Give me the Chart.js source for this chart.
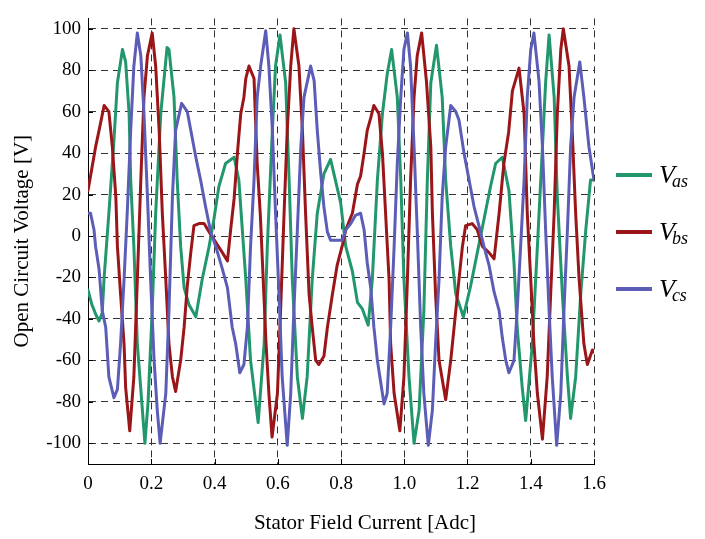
<!DOCTYPE html>
<html>
<head>
<meta charset="utf-8">
<script src="https://cdn.jsdelivr.net/npm/chart.js@4/dist/chart.umd.min.js"></script>
<style>
  html, body { margin: 0; padding: 0; background: #fff; }
</style>
</head>
<body>
<canvas id="chart" width="705" height="539"></canvas>
<script>
// axis ticks
const xTicks = [0, 0.2, 0.4, 0.6, 0.8, 1, 1.2, 1.4, 1.6];
const yTicks = [-100, -80, -60, -40, -20, 0, 20, 40, 60, 80, 100];

// legend subscripts (V_as, V_bs, V_cs)
const legendSubs = ['as', 'bs', 'cs'];
const xTitle = 'Stator Field Current [Adc]';

// [stator field current, open circuit voltage]
const vas = [[0,-26],[0.012,-33],[0.025,-38],[0.035,-41],[0.045,-37],[0.051,-20],[0.066,11],[0.082,46],[0.093,74],[0.109,90],[0.119,84],[0.13,59],[0.135,27],[0.145,-5],[0.156,-52],[0.172,-84],[0.18,-100],[0.19,-80],[0.203,-36],[0.214,11],[0.23,59],[0.25,91],[0.256,90],[0.272,67],[0.282,27],[0.293,-5],[0.304,-25],[0.319,-33],[0.341,-39],[0.361,-21],[0.383,-5],[0.398,8],[0.414,24],[0.435,35],[0.462,38],[0.477,27],[0.499,-21],[0.514,-60],[0.538,-90],[0.557,-52],[0.567,-5],[0.583,51],[0.593,82],[0.607,97],[0.625,74],[0.636,27],[0.646,-21],[0.662,-68],[0.678,-88],[0.693,-68],[0.709,-21],[0.725,11],[0.746,30],[0.767,37],[0.799,16],[0.815,-5],[0.836,-17],[0.852,-32],[0.867,-35],[0.886,-43],[0.899,-21],[0.915,27],[0.931,59],[0.946,78],[0.96,90],[0.978,67],[0.989,27],[0.999,-21],[1.015,-68],[1.031,-100],[1.047,-84],[1.062,-36],[1.073,27],[1.084,74],[1.102,92],[1.12,67],[1.131,27],[1.147,-5],[1.163,-28],[1.187,-39],[1.21,-24],[1.231,-8],[1.252,8],[1.273,24],[1.289,35],[1.31,38],[1.331,22],[1.347,-13],[1.357,-44],[1.373,-73],[1.384,-89],[1.405,-52],[1.421,-5],[1.437,43],[1.447,74],[1.458,97],[1.474,67],[1.484,19],[1.5,-28],[1.516,-68],[1.526,-88],[1.542,-68],[1.558,-28],[1.574,3],[1.589,27],[1.6,27]];

const vbs = [[0,22],[0.008,29],[0.024,43],[0.035,51],[0.051,63],[0.066,60],[0.077,43],[0.088,19],[0.093,-5],[0.103,-28],[0.114,-52],[0.119,-73],[0.132,-94],[0.145,-68],[0.156,-21],[0.167,27],[0.177,67],[0.188,87],[0.203,98],[0.214,82],[0.225,51],[0.235,11],[0.246,-21],[0.256,-52],[0.267,-68],[0.277,-75],[0.293,-60],[0.304,-44],[0.314,-24],[0.325,-8],[0.335,5],[0.351,6],[0.367,6],[0.383,2],[0.404,-3],[0.425,-8],[0.441,-12],[0.451,3],[0.462,18],[0.473,41],[0.483,59],[0.493,67],[0.499,76],[0.509,82],[0.525,76],[0.53,55],[0.535,35],[0.545,10],[0.554,-21],[0.563,-52],[0.572,-76],[0.582,-97],[0.599,-76],[0.609,-36],[0.62,11],[0.63,51],[0.641,82],[0.651,100],[0.667,82],[0.678,51],[0.688,11],[0.699,-28],[0.709,-44],[0.72,-60],[0.73,-62],[0.746,-58],[0.757,-44],[0.773,-28],[0.788,-14],[0.805,-4],[0.815,3],[0.836,11],[0.852,25],[0.862,29],[0.873,40],[0.883,51],[0.894,57],[0.904,63],[0.92,59],[0.931,40],[0.941,11],[0.952,-21],[0.957,-52],[0.968,-76],[0.986,-94],[0.999,-68],[1.01,-21],[1.02,27],[1.031,67],[1.041,87],[1.055,98],[1.07,75],[1.084,43],[1.089,11],[1.099,-28],[1.11,-60],[1.131,-79],[1.147,-60],[1.163,-36],[1.173,-21],[1.184,-5],[1.194,5],[1.215,6],[1.231,3],[1.247,-5],[1.268,-8],[1.284,-11],[1.3,11],[1.315,35],[1.33,50],[1.342,70],[1.363,81],[1.379,59],[1.389,11],[1.4,-21],[1.41,-52],[1.421,-76],[1.437,-98],[1.452,-68],[1.463,-28],[1.474,11],[1.484,59],[1.495,90],[1.503,100],[1.521,82],[1.531,51],[1.542,11],[1.553,-21],[1.568,-52],[1.579,-62],[1.595,-55],[1.6,-56]];

const vcs = [[0,11],[0.008,11],[0.019,3],[0.024,-5],[0.035,-16],[0.045,-36],[0.056,-44],[0.066,-68],[0.082,-78],[0.093,-74],[0.103,-52],[0.114,-21],[0.124,11],[0.135,51],[0.145,82],[0.156,98],[0.167,87],[0.177,59],[0.188,19],[0.198,-21],[0.209,-60],[0.219,-84],[0.228,-100],[0.246,-76],[0.256,-36],[0.267,19],[0.277,51],[0.296,64],[0.314,60],[0.325,51],[0.341,38],[0.356,27],[0.372,14],[0.388,2],[0.404,-5],[0.425,-16],[0.441,-25],[0.456,-44],[0.467,-52],[0.48,-66],[0.493,-62],[0.504,-44],[0.514,-5],[0.525,27],[0.535,67],[0.546,82],[0.562,99],[0.572,82],[0.583,51],[0.593,11],[0.604,-28],[0.614,-68],[0.63,-101],[0.641,-76],[0.651,-36],[0.662,3],[0.673,43],[0.683,67],[0.704,82],[0.715,75],[0.725,51],[0.736,30],[0.746,14],[0.757,2],[0.767,-2],[0.788,-2],[0.804,-2],[0.815,3],[0.831,6],[0.846,10],[0.862,11],[0.873,3],[0.883,-13],[0.894,-25],[0.904,-44],[0.915,-60],[0.926,-71],[0.936,-81],[0.946,-76],[0.957,-44],[0.968,-5],[0.978,35],[0.989,67],[0.999,90],[1.01,98],[1.02,82],[1.031,43],[1.041,3],[1.052,-44],[1.062,-76],[1.076,-101],[1.089,-84],[1.099,-52],[1.11,-21],[1.12,19],[1.131,43],[1.147,63],[1.163,60],[1.173,56],[1.189,40],[1.205,27],[1.221,14],[1.236,5],[1.252,-5],[1.268,-14],[1.284,-27],[1.3,-36],[1.31,-49],[1.321,-60],[1.331,-66],[1.347,-60],[1.357,-36],[1.368,-5],[1.379,27],[1.389,67],[1.4,90],[1.41,98],[1.426,75],[1.437,43],[1.447,3],[1.458,-36],[1.468,-68],[1.482,-101],[1.495,-76],[1.505,-36],[1.516,3],[1.526,43],[1.537,67],[1.555,84],[1.568,67],[1.584,43],[1.6,27]];

const serif = "'Liberation Serif', 'Times New Roman', serif";
Chart.defaults.font.family = serif;
Chart.defaults.color = '#000';

const toPoints = arr => arr.map(p => ({ x: p[0], y: p[1] }));

// small inward tick marks on the left and bottom axes
const innerTicks = {
    id: 'innerTicks',
    afterDraw(chart) {
        const { ctx, chartArea: a, scales: { x, y } } = chart;
        ctx.save();
        ctx.strokeStyle = '#000';
        ctx.lineWidth = 1;
        ctx.beginPath();
        xTicks.forEach(v => {
            const px = Math.round(x.getPixelForValue(v)) + 0.5;
            ctx.moveTo(px, a.bottom);
            ctx.lineTo(px, a.bottom - 5);
        });
        yTicks.forEach(v => {
            const py = Math.round(y.getPixelForValue(v)) + 0.5;
            ctx.moveTo(a.left, py);
            ctx.lineTo(a.left + 5, py);
        });
        ctx.stroke();
        ctx.restore();
    }
};

// x axis title, sits a little right of the plot centre in the original
const bottomTitle = {
    id: 'bottomTitle',
    afterDraw(chart) {
        const { ctx, chartArea: a } = chart;
        ctx.save();
        ctx.fillStyle = '#000';
        ctx.font = '21px ' + serif;
        ctx.textAlign = 'center';
        ctx.textBaseline = 'middle';
        ctx.fillText(xTitle, (a.left + a.right) / 2 + 24, 523);
        ctx.restore();
    }
};

// legend on the right with subscripted labels
const sideLegend = {
    id: 'sideLegend',
    afterDraw(chart) {
        const ctx = chart.ctx;
        const x0 = chart.chartArea.right + 22;
        chart.data.datasets.forEach((ds, i) => {
            const y = 175 + i * 57;
            ctx.save();
            ctx.strokeStyle = ds.borderColor;
            ctx.lineWidth = 4;
            ctx.beginPath();
            ctx.moveTo(x0, y);
            ctx.lineTo(x0 + 36, y);
            ctx.stroke();
            ctx.fillStyle = '#000';
            ctx.textAlign = 'left';
            ctx.textBaseline = 'alphabetic';
            ctx.font = 'italic 26px ' + serif;
            ctx.fillText('V', x0 + 43, y + 8);
            const w = ctx.measureText('V').width;
            ctx.font = 'italic 18px ' + serif;
            ctx.fillText(legendSubs[i], x0 + 43 + w - 3, y + 12);
            ctx.restore();
        });
    }
};

const ctx = document.getElementById('chart').getContext('2d');

new Chart(ctx, {
    type: 'line',
    data: {
        datasets: [
            { label: 'V' + legendSubs[0], data: toPoints(vas), borderColor: '#23976c', order: 3 },
            { label: 'V' + legendSubs[1], data: toPoints(vbs), borderColor: '#9a1618', order: 2 },
            { label: 'V' + legendSubs[2], data: toPoints(vcs), borderColor: '#5c5db7', order: 1 }
        ]
    },
    options: {
        responsive: false,
        animation: false,
        layout: { padding: { left: 0, right: 111, top: 13, bottom: 0 } },
        plugins: {
            legend: { display: false },
            tooltip: { enabled: false }
        },
        elements: {
            point: { radius: 0 },
            line: { borderWidth: 3, tension: 0, borderJoinStyle: 'round', borderCapStyle: 'round' }
        },
        scales: {
            x: {
                type: 'linear',
                min: 0,
                max: 1.6,
                afterBuildTicks: s => { s.ticks = xTicks.map(v => ({ value: v })); },
                afterFit: s => { s.height = 75; },
                grid: { color: '#333', lineWidth: 1, drawTicks: false },
                border: { display: true, color: '#000', width: 1, dash: [7, 5] },
                ticks: { font: { size: 19 }, color: '#000', padding: 9, maxRotation: 0, autoSkip: false },
                title: { display: false }
            },
            y: {
                type: 'linear',
                min: -110,
                max: 105,
                afterBuildTicks: s => { s.ticks = yTicks.map(v => ({ value: v })); },
                afterFit: s => { s.width = 88; },
                grid: { color: '#333', lineWidth: 1, drawTicks: false },
                border: { display: true, color: '#000', width: 1, dash: [7, 5] },
                ticks: { font: { size: 19 }, color: '#000', padding: 7 },
                title: { display: true, text: 'Open Circuit Voltage [V]', font: { size: 21 }, color: '#000', padding: { top: 10, bottom: 0 } }
            }
        }
    },
    plugins: [innerTicks, bottomTitle, sideLegend]
});
</script>
</body>
</html>
